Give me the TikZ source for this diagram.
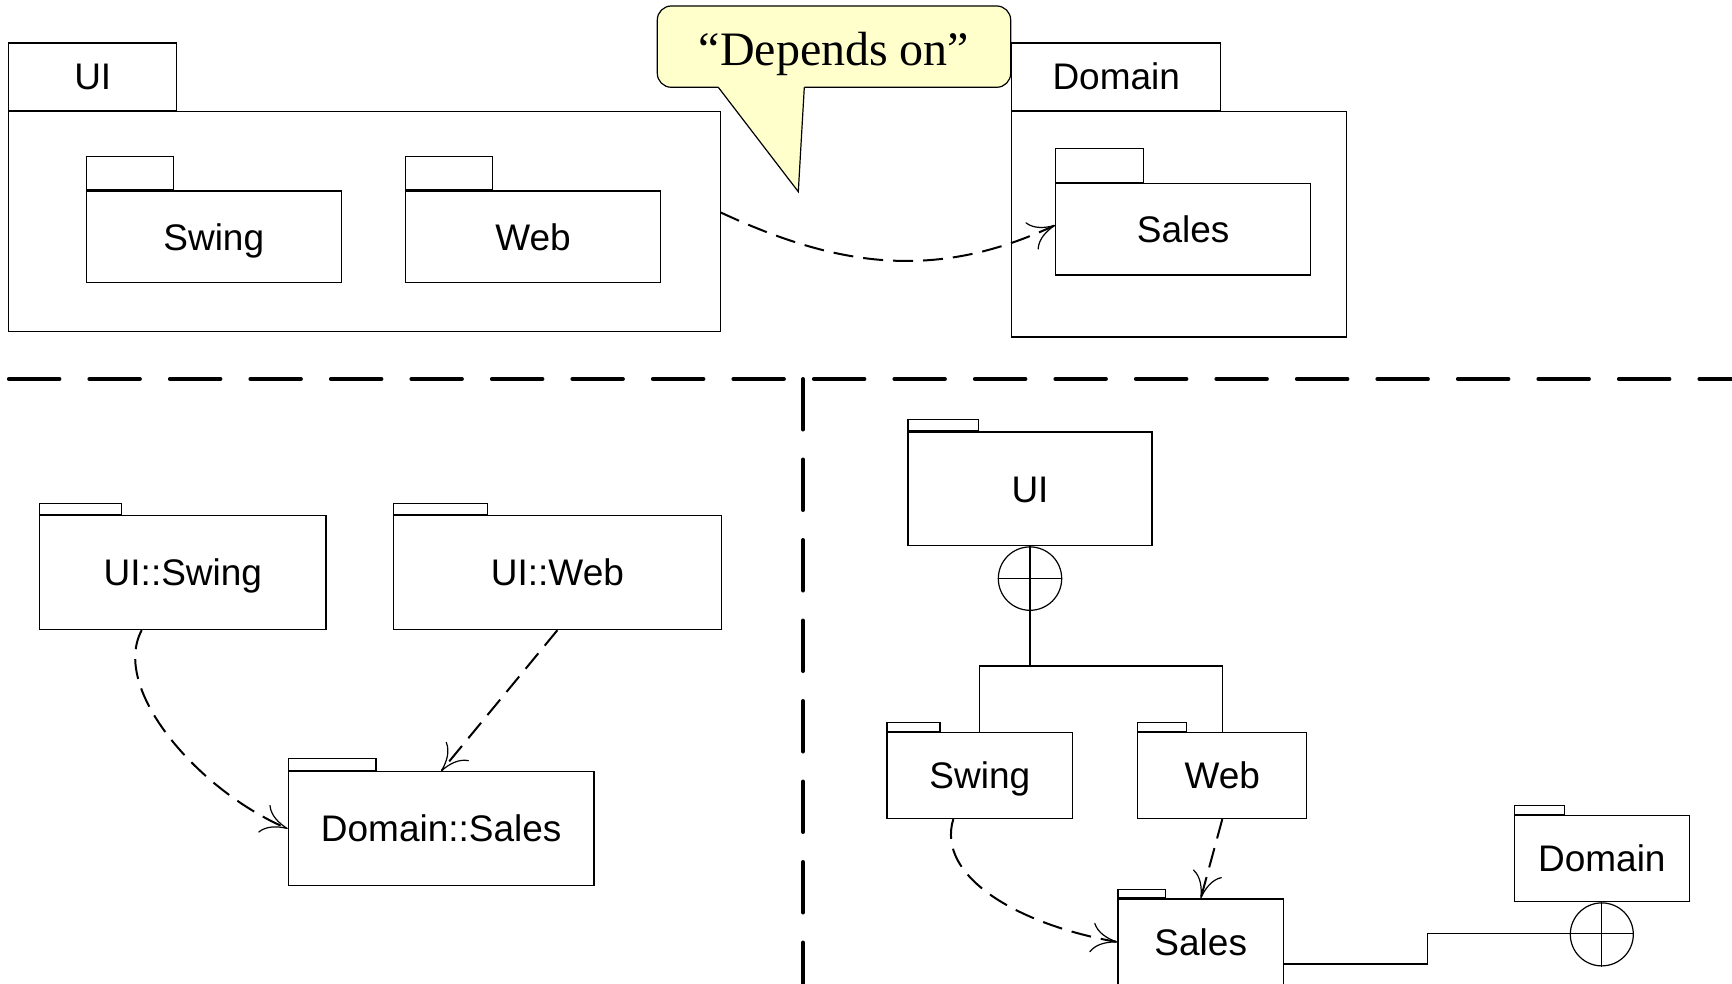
\documentclass[tikz,border=0pt]{standalone}
\usepackage{fontspec}
\setmainfont{Liberation Sans}
\newfontfamily\notefont{Liberation Serif}
\usepackage{tikz}
\usetikzlibrary{arrows.meta,shapes,positioning}
\definecolor{noteyellow}{RGB}{255,255,204}

\begin{document}
\begin{tikzpicture}[x=1pt, y=-1pt, line width=1.2pt]
\tikzstyle{pkg}=[draw, shape=rectangle, inner sep=0pt]
\tikzstyle{tab}=[draw, shape=rectangle, inner sep=0pt]
\tikzstyle{lbl}=[font=\fontsize{37}{44}\selectfont, text height=26.5pt, text depth=0pt]
\tikzstyle{joint}=[draw, shape=circle, inner sep=0pt]
\tikzstyle{dep}=[line width=2pt, dash pattern=on 20pt off 10pt, -{To[length=26pt, width=30pt, line width=1.2pt]}]
\tikzstyle{divider}=[line width=4pt, line cap=round, dash pattern=on 50.5pt off 30pt]
\tikzstyle{note}=[draw, fill=noteyellow, rounded corners=14pt, inner sep=0pt, font=\notefont\fontsize{48}{56}\selectfont, text height=38.4pt, text depth=0pt]
\useasboundingbox (0,0) rectangle (1732,984);

% packages, nested form
\node[pkg, minimum width=711.4pt, minimum height=219.8pt] (uiTop) at (364.5,221.5) {};
\node[tab, lbl, minimum width=167.9pt, minimum height=67.4pt, above right=0pt of uiTop.north west] (uiTopTab) {UI};
\node[pkg, lbl, minimum width=255.1pt, minimum height=91.8pt] (swingTop) at (213.75,236.9) {Swing};
\node[tab, minimum width=87.2pt, minimum height=33pt, above right=0pt of swingTop.north west] (swingTopTab) {};
\node[pkg, lbl, minimum width=255.2pt, minimum height=91.8pt, right=63pt of swingTop] (webTop) {Web};
\node[tab, minimum width=87.2pt, minimum height=33pt, above right=0pt of webTop.north west] (webTopTab) {};

\node[pkg, minimum width=334.7pt, minimum height=225.3pt] (domTop) at (1179.2,224.3) {};
\node[tab, lbl, minimum width=208.8pt, minimum height=67.4pt, above right=0pt of domTop.north west] (domTopTab) {Domain};
\node[pkg, lbl, minimum width=255pt, minimum height=91.7pt] (salesTop) at (1183.2,229.2) {Sales};
\node[tab, minimum width=87.6pt, minimum height=33.3pt, above right=0pt of salesTop.north west] (salesTopTab) {};

\draw[dep] ([yshift=9pt]uiTop.east) to[out=-25, in=205] ([yshift=4pt]salesTop.west);

% speech bubble
\node[note, minimum width=353.4pt, minimum height=81.3pt] (note) at (834,46.65) {“Depends on”};
\fill[noteyellow] (718.3,85.5) -- (718.3,87.3) -- (798.3,191.7) -- (804.3,87.3) -- (804.3,85.5) -- cycle;
\draw[line join=miter] (718.3,87.3) -- (798.3,191.7) -- (804.3,87.3);

% separators
\draw[divider] (8.9,379) -- (1732,379);
\draw[divider] (803,379) -- (803,984);

% packages, qualified names
\node[pkg, lbl, minimum width=286.1pt, minimum height=113.8pt] (uiSwing) at (182.9,572.7) {UI::Swing};
\node[tab, minimum width=81.7pt, minimum height=11pt, above right=0pt of uiSwing.north west] (uiSwingTab) {};
\node[pkg, lbl, minimum width=328.1pt, minimum height=113.8pt, right=66.2pt of uiSwing] (uiWeb) {UI::Web};
\node[tab, minimum width=93.9pt, minimum height=11pt, above right=0pt of uiWeb.north west] (uiWebTab) {};
\node[pkg, lbl, minimum width=305.7pt, minimum height=114pt] (domSales) at (441.2,828.7) {Domain::Sales};
\node[tab, minimum width=87.7pt, minimum height=11.7pt, above right=0pt of domSales.north west] (domSalesTab) {};

\draw[dep] ([xshift=-41.2pt]uiSwing.south) to[out=242, in=157, out looseness=0.7] (domSales.west);
\draw[dep] (uiWeb.south) -- (domSales.north);

% packages, containment form
\node[pkg, lbl, minimum width=244.1pt, minimum height=113.8pt] (uiR) at (1030,488.8) {UI};
\node[tab, minimum width=70.7pt, minimum height=11pt, above right=0pt of uiR.north west] (uiRTab) {};
\node[joint, minimum size=63.4pt, below=0pt of uiR] (circ1) {};
\coordinate (branch) at (1030,666);

\node[pkg, lbl, minimum width=185.6pt, minimum height=86.1pt] (swingR) at (979.8,775.5) {Swing};
\node[tab, minimum width=53pt, minimum height=8.9pt, above right=0pt of swingR.north west] (swingRTab) {};
\node[pkg, lbl, minimum width=169pt, minimum height=86.1pt, right=64pt of swingR] (webR) {Web};
\node[tab, minimum width=48.6pt, minimum height=8.9pt, above right=0pt of webR.north west] (webRTab) {};

\node[pkg, lbl, minimum width=165.7pt, minimum height=86.1pt] (salesR) at (1200.75,942) {Sales};
\node[tab, minimum width=47.4pt, minimum height=8.5pt, above right=0pt of salesR.north west] (salesRTab) {};

\node[pkg, lbl, minimum width=174.6pt, minimum height=86.4pt] (domR) at (1601.8,858.5) {Domain};
\node[tab, minimum width=49.9pt, minimum height=8.6pt, above right=0pt of domR.north west] (domRTab) {};
\node[joint, minimum size=63pt, below=0pt of domR] (circ2) {};
\coordinate (bend) at (1427.2,933.3);

\draw (uiR.south) -- (branch);
\draw (circ1.west) -- (circ1.east);
\draw (swingR.north) |- (branch) -| (webR.north);

\draw ([yshift=-22pt]salesR.east) -| (bend) -- (bend -| circ2.east);
\draw (circ2.north) -- (circ2.south);

\draw[dep] ([xshift=-26.5pt]swingR.south) to[out=253, in=170, out looseness=0.75, in looseness=1.25] (salesR.west);
\draw[dep] (webR.south) -- (salesR.north);

\end{tikzpicture}
\end{document}
